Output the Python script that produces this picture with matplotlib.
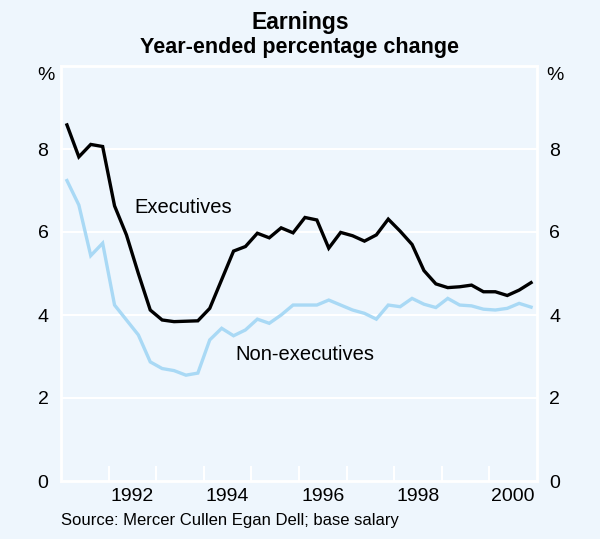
import numpy as np
import matplotlib.pyplot as plt
import matplotlib as mpl

mpl.rcParams['font.family'] = ['Liberation Sans', 'DejaVu Sans']

# quarterly data, 1991 Q1 .. 2000 Q4
quarters = np.arange(1991.125, 2001.0, 0.25)

executives = [8.58, 7.81, 8.11, 8.06, 6.63, 5.93, 5.00, 4.12, 3.88, 3.84,
              3.85, 3.86, 4.16, 4.85, 5.54, 5.65, 5.97, 5.86, 6.10, 5.98,
              6.35, 6.29, 5.61, 5.99, 5.91, 5.78, 5.93, 6.31, 6.02, 5.70,
              5.07, 4.75, 4.66, 4.68, 4.72, 4.56, 4.56, 4.47, 4.60, 4.78]

non_executives = [7.24, 6.65, 5.43, 5.73, 4.24, 3.88, 3.52, 2.87, 2.71, 2.66,
                  2.55, 2.60, 3.40, 3.68, 3.50, 3.64, 3.90, 3.80, 4.00, 4.24,
                  4.24, 4.24, 4.36, 4.24, 4.12, 4.04, 3.90, 4.24, 4.20, 4.40,
                  4.26, 4.18, 4.40, 4.24, 4.22, 4.14, 4.12, 4.16, 4.28, 4.19]

year_labels = [1992, 1994, 1996, 1998, 2000]
y_ticks = [0, 2, 4, 6, 8]

BG = '#EEF6FD'
BLUE = '#A9D9F5'

fig = plt.figure(figsize=(6.0, 5.39), dpi=100, facecolor=BG)
ax = fig.add_axes([61 / 600, 1 - 481 / 539, 476 / 600, 415 / 539])
ax.set_facecolor(BG)

ax.plot(quarters[:len(non_executives)], non_executives, color=BLUE, linewidth=2.4, solid_joinstyle='miter')
ax.plot(quarters[:len(executives)], executives, color='black', linewidth=2.4, solid_joinstyle='miter')

ax.set_xlim(1991, 2001)
ax.set_ylim(0, 10)

# white frame and grid
for s in ax.spines.values():
    s.set_color('white')
    s.set_linewidth(2)
for v in y_ticks[1:]:
    ax.axhline(v, color='white', linewidth=1.5, zorder=0)

# year boundary ticks, labels centred in the year
ax.set_xticks(np.arange(1992, 2001))
ax.tick_params(axis='x', which='major', direction='in', length=11, width=1.5,
               color='white', labelbottom=False)
ax.set_xticks([y + 0.5 for y in year_labels], minor=True)
ax.set_xticklabels([str(y) for y in year_labels], minor=True)
ax.tick_params(axis='x', which='minor', length=0, labelsize=14, pad=5)

ax.set_yticks(y_ticks)
ax.set_yticklabels([str(v) for v in y_ticks])
ax.tick_params(axis='y', length=0, labelsize=14, labelleft=True, labelright=True)
ax.tick_params(axis='y', which='major', pad=9)

fig.text(46 / 600, 1 - 75 / 539, '%', ha='center', va='center', fontsize=14)
fig.text(555 / 600, 1 - 75 / 539, '%', ha='center', va='center', fontsize=14)

ax.text(1992.55, 6.6, 'Executives', fontsize=14.5, ha='left', va='center')
ax.text(1994.66, 3.04, 'Non-executives', fontsize=14.5, ha='left', va='center')

fig.text(0.5, 1 - 22 / 539, 'Earnings', ha='center', va='center', fontsize=16.5, fontweight='bold')
fig.text(0.5, 1 - 48 / 539, 'Year-ended percentage change', ha='center', va='center',
         fontsize=15.5, fontweight='bold')
fig.text(61 / 600, 1 - 520 / 539, 'Source: Mercer Cullen Egan Dell; base salary',
         ha='left', va='center', fontsize=12)

fig.savefig('out.png', dpi=100, facecolor=BG)
